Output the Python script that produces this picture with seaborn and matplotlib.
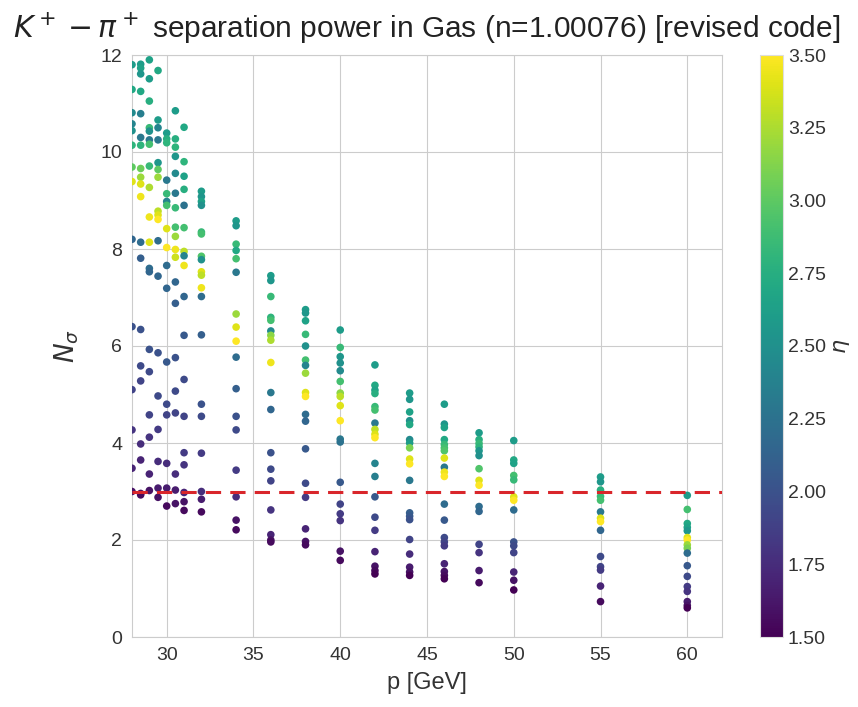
import numpy as np
import pandas as pd
import matplotlib
matplotlib.use("Agg")
import matplotlib.pyplot as plt
import seaborn as sns

# Momentum columns [GeV]
P_VALUES = [28, 28.5, 29, 29.5, 30, 30.5, 31, 32, 34, 36, 38, 40, 42, 44, 46, 48, 50, 55, 60]

# N_sigma and pseudorapidity for each momentum column
N_28 = [11.8, 11.29, 10.81, 10.58, 10.44, 10.14, 9.69, 9.39, 8.2, 6.4, 5.1, 4.27, 3.48, 3.0]
ETA_28 = [2.6, 2.7, 2.45, 2.4, 2.5, 2.8, 3.0, 3.4, 2.15, 2.0, 1.9, 1.8, 1.7, 1.6]

N_28_5 = [11.81, 11.73, 11.61, 11.25, 10.79, 10.3, 10.14, 9.66, 9.48, 9.34, 9.08, 8.14, 7.81, 6.34, 5.59, 5.28, 3.98, 3.65, 2.96, 2.93]
ETA_28_5 = [2.6, 2.65, 2.55, 2.7, 2.35, 2.3, 2.8, 3.05, 3.2, 3.4, 3.45, 2.2, 2.1, 2.0, 1.95, 1.9, 1.75, 1.7, 1.6, 1.55]

N_29 = [11.9, 11.51, 11.05, 10.5, 10.43, 10.25, 10.16, 9.71, 9.27, 8.66, 8.14, 7.6, 7.53, 5.93, 5.47, 4.58, 4.12, 3.36, 3.02]
ETA_29 = [2.65, 2.6, 2.75, 2.85, 2.5, 2.3, 2.9, 2.85, 3.25, 3.45, 3.4, 2.2, 2.15, 2.0, 1.95, 1.9, 1.8, 1.7, 1.6]

N_29_5 = [11.68, 10.66, 10.5, 10.25, 9.78, 9.64, 9.48, 8.78, 8.7, 8.61, 8.17, 7.44, 5.86, 4.97, 4.28, 3.62, 3.07, 2.88]
ETA_29_5 = [2.7, 2.6, 2.4, 2.3, 2.55, 3.0, 3.2, 3.3, 3.4, 3.5, 2.2, 2.15, 2.0, 1.95, 1.85, 1.75, 1.65, 1.6]

N_30 = [10.39, 10.27, 10.19, 9.42, 9.14, 8.98, 8.9, 8.42, 8.03, 7.66, 7.19, 5.67, 4.8, 4.58, 3.58, 3.07, 2.7]
ETA_30 = [2.6, 2.75, 2.8, 2.3, 2.85, 2.4, 2.9, 3.4, 3.5, 2.2, 2.15, 2.05, 1.95, 1.9, 1.75, 1.65, 1.55]

N_30_5 = [10.85, 10.27, 10.1, 9.91, 9.56, 9.15, 8.85, 8.45, 8.26, 7.99, 7.83, 7.32, 6.88, 5.76, 5.07, 4.62, 3.36, 3.03, 2.75]
ETA_30_5 = [2.6, 2.75, 2.8, 2.55, 2.45, 2.3, 2.85, 2.9, 3.2, 3.45, 3.35, 2.15, 2.1, 2.0, 1.95, 1.9, 1.75, 1.65, 1.6]

N_31 = [10.51, 9.8, 9.5, 9.23, 8.9, 8.44, 7.95, 7.86, 7.66, 7.02, 6.22, 5.31, 4.55, 3.8, 3.55, 2.98, 2.79, 2.61]
ETA_31 = [2.7, 2.8, 2.65, 2.75, 2.25, 2.9, 3.3, 2.4, 3.45, 2.15, 2.05, 1.95, 1.9, 1.85, 1.8, 1.7, 1.6, 1.55]

N_32 = [9.19, 9.08, 8.98, 8.9, 8.35, 8.31, 7.85, 7.78, 7.53, 7.46, 7.2, 7.02, 6.23, 4.8, 4.55, 3.79, 3.0, 2.84, 2.58]
ETA_32 = [2.6, 2.55, 2.65, 2.5, 2.85, 2.9, 2.95, 2.5, 3.4, 3.3, 3.45, 2.2, 2.1, 2.0, 1.95, 1.85, 1.75, 1.65, 1.55]

N_34 = [8.58, 8.48, 8.1, 7.97, 7.8, 7.52, 6.66, 6.39, 6.1, 5.77, 5.12, 4.55, 4.27, 3.44, 2.89, 2.41, 2.21]
ETA_34 = [2.6, 2.55, 2.85, 2.7, 2.9, 2.3, 3.2, 3.4, 3.5, 2.2, 2.1, 2.0, 1.95, 1.85, 1.75, 1.6, 1.55]

N_36 = [7.45, 7.35, 7.02, 6.59, 6.53, 6.31, 6.22, 6.12, 5.66, 5.04, 4.69, 3.8, 3.46, 3.22, 2.62, 2.11, 2.0, 1.96]
ETA_36 = [2.6, 2.55, 2.85, 2.8, 2.9, 2.45, 3.15, 3.25, 3.45, 2.3, 2.15, 2.0, 1.95, 1.9, 1.8, 1.7, 1.6, 1.55]

N_38 = [6.75, 6.68, 6.52, 6.24, 6.0, 5.71, 5.6, 5.44, 5.04, 4.96, 4.59, 4.45, 3.88, 3.17, 2.88, 2.23, 1.97, 1.9]
ETA_38 = [2.6, 2.55, 2.65, 2.85, 2.5, 2.9, 2.4, 3.2, 3.4, 3.5, 2.2, 2.15, 2.05, 1.95, 1.85, 1.7, 1.6, 1.55]

N_40 = [6.33, 5.97, 5.78, 5.65, 5.49, 5.27, 5.03, 4.96, 4.77, 4.46, 4.08, 4.02, 3.19, 2.74, 2.54, 2.4, 1.77, 1.58]
ETA_40 = [2.6, 2.85, 2.55, 2.5, 2.45, 2.9, 3.15, 3.3, 3.4, 3.5, 2.3, 2.25, 2.05, 1.9, 1.85, 1.8, 1.6, 1.55]

N_42 = [5.61, 5.19, 5.09, 5.02, 4.75, 4.68, 4.41, 4.28, 4.18, 4.11, 3.58, 3.31, 2.89, 2.47, 2.2, 1.76, 1.46, 1.37, 1.3]
ETA_42 = [2.6, 2.7, 2.65, 2.75, 2.85, 2.9, 2.3, 3.3, 3.4, 3.5, 2.4, 2.35, 2.05, 1.95, 1.85, 1.7, 1.6, 1.55, 1.5]

N_44 = [5.03, 4.9, 4.64, 4.46, 4.38, 4.07, 4.0, 3.9, 3.67, 3.57, 3.23, 2.56, 2.49, 2.42, 2.01, 1.71, 1.44, 1.34, 1.27]
ETA_44 = [2.6, 2.55, 2.65, 2.5, 2.7, 2.45, 2.6, 3.1, 3.4, 3.5, 2.3, 2.1, 2.05, 2.0, 1.9, 1.75, 1.65, 1.6, 1.5]

N_46 = [4.8, 4.39, 4.32, 4.07, 3.97, 3.9, 3.84, 3.69, 3.5, 3.4, 3.31, 2.74, 2.41, 2.05, 1.96, 1.88, 1.51, 1.35, 1.27, 1.2]
ETA_46 = [2.6, 2.55, 2.65, 2.7, 2.85, 2.9, 2.95, 3.4, 2.3, 3.45, 3.5, 2.2, 2.05, 1.95, 1.9, 1.85, 1.7, 1.6, 1.55, 1.5]

N_48 = [4.21, 4.07, 3.99, 3.92, 3.84, 3.74, 3.47, 3.23, 3.13, 2.69, 2.59, 1.91, 1.74, 1.37, 1.12]
ETA_48 = [2.6, 2.75, 2.85, 2.8, 2.55, 2.5, 2.95, 3.4, 3.5, 2.2, 2.15, 1.9, 1.8, 1.65, 1.55]

N_50 = [4.05, 3.65, 3.58, 3.33, 3.24, 2.89, 2.82, 2.62, 1.96, 1.88, 1.74, 1.34, 1.17, 0.97]
ETA_50 = [2.6, 2.7, 2.65, 2.9, 2.85, 3.4, 3.5, 2.2, 2.0, 1.95, 1.9, 1.7, 1.6, 1.5]

N_55 = [3.3, 3.2, 3.03, 2.9, 2.82, 2.58, 2.45, 2.38, 2.2, 1.66, 1.45, 1.38, 1.05, 0.73]
ETA_55 = [2.6, 2.55, 2.75, 2.85, 2.9, 2.3, 3.4, 3.5, 2.15, 1.95, 1.9, 1.85, 1.7, 1.55]

N_60 = [2.92, 2.63, 2.34, 2.26, 2.19, 2.05, 2.0, 1.9, 1.83, 1.73, 1.47, 1.25, 1.04, 0.94, 0.73, 0.65, 0.6]
ETA_60 = [2.6, 2.9, 2.7, 2.65, 2.55, 3.4, 3.5, 3.2, 3.1, 2.2, 2.05, 1.95, 1.85, 1.8, 1.65, 1.6, 1.5]

N_COLUMNS = [N_28, N_28_5, N_29, N_29_5, N_30, N_30_5, N_31, N_32, N_34, N_36,
             N_38, N_40, N_42, N_44, N_46, N_48, N_50, N_55, N_60]
ETA_COLUMNS = [ETA_28, ETA_28_5, ETA_29, ETA_29_5, ETA_30, ETA_30_5, ETA_31, ETA_32, ETA_34, ETA_36,
               ETA_38, ETA_40, ETA_42, ETA_44, ETA_46, ETA_48, ETA_50, ETA_55, ETA_60]

THRESHOLD = 3.0
ETA_MIN, ETA_MAX = 1.5, 3.5
CBAR_TICKS = [1.5, 1.75, 2.0, 2.25, 2.5, 2.75, 3.0, 3.25, 3.5]
X_TICKS = [30, 35, 40, 45, 50, 55, 60]
Y_TICKS = [0, 2, 4, 6, 8, 10, 12]

rows = []
for p, ns, etas in zip(P_VALUES, N_COLUMNS, ETA_COLUMNS):
    for n, e in zip(ns, etas):
        rows.append({"p": p, "nsigma": n, "eta": e})
df = pd.DataFrame(rows)

sns.set_style("whitegrid")
plt.rcParams["font.family"] = ["Liberation Sans", "DejaVu Sans"]
plt.rcParams["mathtext.fontset"] = "dejavusans"

fig = plt.figure(figsize=(8.58, 7.07), dpi=100)
ax = fig.add_axes([132 / 858, 70 / 707, 590 / 858, 582 / 707])

norm = matplotlib.colors.Normalize(vmin=ETA_MIN, vmax=ETA_MAX)
sns.scatterplot(data=df, x="p", y="nsigma", hue="eta", palette="viridis",
                hue_norm=norm, s=30, linewidth=0, legend=False, ax=ax, zorder=3)

ax.axhline(THRESHOLD, color="#d9262b", ls=(0, (5, 3)), lw=2.2, zorder=4)

ax.set_xlim(28, 62)
ax.set_ylim(0, 12)
ax.set_xticks(X_TICKS)
ax.set_yticks(Y_TICKS)
ax.tick_params(labelsize=14, colors="#444444")
for lab in ax.get_xticklabels() + ax.get_yticklabels():
    lab.set_color("#333333")
ax.set_xlabel("p [GeV]", fontsize=17, color="#333333", labelpad=6)
ax.set_ylabel(r"$N_\sigma$", fontsize=19, color="#333333", labelpad=14)
ax.set_title(r"$K^+ - \pi^+$ separation power in Gas (n=1.00076) [revised code]",
             fontsize=21.5, color="#222222", pad=12)

cax = fig.add_axes([760 / 858, 70 / 707, 23 / 858, 582 / 707])
sm = matplotlib.cm.ScalarMappable(norm=norm, cmap="viridis")
cbar = fig.colorbar(sm, cax=cax, ticks=CBAR_TICKS)
cbar.ax.set_yticklabels([f"{t:.2f}" for t in CBAR_TICKS])
cbar.ax.tick_params(labelsize=14, colors="#333333", length=0)
cbar.outline.set_edgecolor("#dddddd")
cbar.set_label(r"$\eta$", fontsize=16, color="#333333", labelpad=4)

fig.savefig("out.png", dpi=100)
